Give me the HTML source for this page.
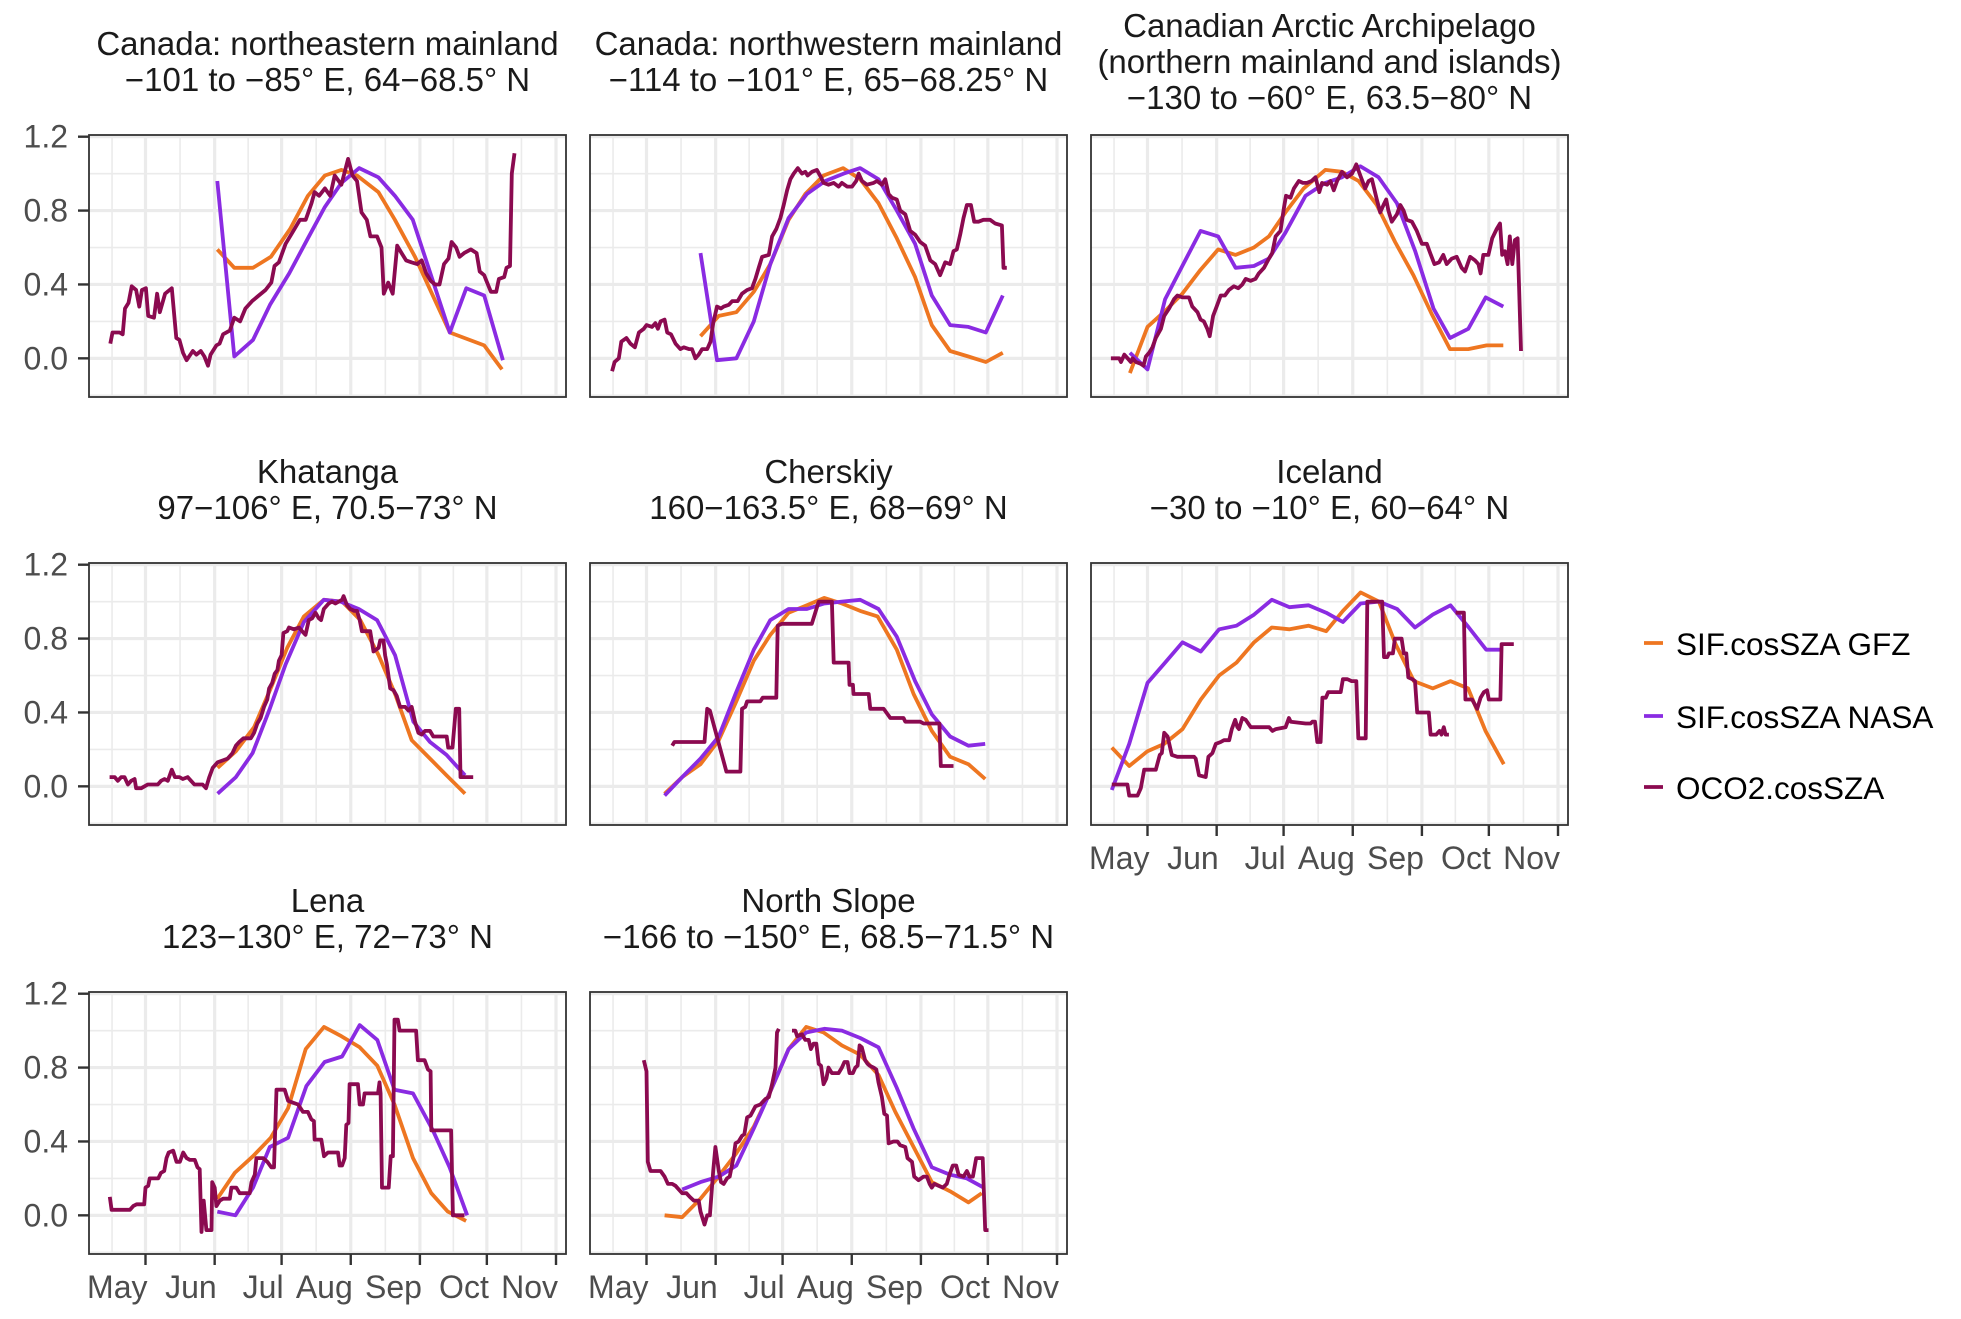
<!DOCTYPE html>
<html><head><meta charset="utf-8"><title>SIF vs OCO2 by region</title>
<style>
html,body{margin:0;padding:0;background:#fff;}
svg{display:block;font-family:"Liberation Sans",Arial,sans-serif;}
</style></head>
<body>
<svg id="chart" width="1961" height="1319" viewBox="0 0 1961 1319" xmlns="http://www.w3.org/2000/svg"></svg>
<script>
// ---------------- data (day-of-year, value) ----------------
const monthTicks = [121,152,182,213,244,274,305];
const monthLabels = ["May","Jun","Jul","Aug","Sep","Oct","Nov"];
const minorDays = [106,136.5,167,197.5,228.5,259,289.5];
const yTicks = [0,0.4,0.8,1.2];
const yTickLabels = ["0.0","0.4","0.8","1.2"];
const yMinor = [-0.2,0.2,0.6,1.0];
const seriesNames = ["SIF.cosSZA GFZ","SIF.cosSZA NASA","OCO2.cosSZA"];

const p1Title = ["Canada: northeastern mainland","\u2212101 to \u221285\u00b0 E, 64\u221268.5\u00b0 N"];
const p1GFZ = [[153.2,.59],[160.8,.49],[169.2,.49],[177.2,.55],[185.8,.70],[193.8,.88],[201.4,.99],[208.8,1.02],[215.8,.99],[225.4,.90],[232.8,.75],[241.8,.55],[257.4,.14],[272.8,.07],[280.8,-.06]];
const p1NASA = [[153.2,.96],[160.8,.01],[169.2,.10],[176.8,.29],[185.4,.46],[193.8,.65],[201.4,.82],[208.8,.95],[216.8,1.03],[225.4,.98],[232.8,.88],[240.8,.75],[257.4,.14],[264.8,.38],[272.8,.34],[281.2,-.01]];
const p1OCO2 = [[105.2,.08],[106.2,.14],[109.4,.14],[110.8,.13],[111.8,.27],[113.4,.30],[114.8,.39],[116.8,.37],[118.2,.28],[119.4,.37],[121.2,.38],[122.2,.23],[124.8,.22],[126.2,.35],[127.4,.25],[129.8,.35],[132.8,.38],[134.8,.11],[136.2,.10],[137.8,.03],[139.4,-.01],[142.2,.04],[143.8,.02],[145.8,.04],[147.4,.01],[149,-.04],[150.2,.02],[152.8,.07],[154.2,.08],[155.8,.13],[158.8,.15],[160.8,.22],[163.4,.20],[165.8,.27],[168.8,.31],[171.8,.34],[174.8,.37],[177.4,.41],[178.8,.50],[180.8,.52],[183.8,.62],[186.8,.68],[190.2,.75],[192.8,.75],[195.4,.84],[196.8,.90],[198.8,.88],[201.4,.92],[203.8,.88],[205.8,.99],[208.8,.94],[211.8,1.08],[213.8,.99],[215.8,.96],[217.8,.79],[220.2,.75],[221.8,.66],[224.8,.66],[226.8,.60],[227.8,.35],[229.8,.41],[231.8,.35],[233.8,.61],[235.8,.57],[237.8,.53],[240.2,.52],[242.8,.51],[244.8,.53],[246.8,.46],[248.8,.42],[250.8,.40],[252.8,.40],[254.8,.51],[256.8,.54],[258.2,.63],[260.2,.60],[261.8,.55],[263.8,.57],[266.8,.59],[269.4,.57],[270.8,.47],[272.8,.45],[273.8,.42],[275.8,.36],[278.2,.36],[279.4,.43],[281.8,.44],[282.8,.49],[284.4,.50],[285.2,1.00],[286.4,1.11]];

const p2Title = ["Canada: northwestern mainland","\u2212114 to \u2212101\u00b0 E, 65\u221268.25\u00b0 N"];
const p2GFZ = [[145.2,.12],[153.4,.23],[161.3,.25],[169.1,.36],[176.5,.51],[184.7,.75],[192.2,.89],[200.4,.99],[209.1,1.03],[216.8,.97],[225,.84],[233.2,.65],[241.4,.44],[248.9,.18],[257.1,.04],[265.3,.01],[273.1,-.02],[280.7,.03]];
const p2NASA = [[145.2,.57],[152.6,-.01],[161.3,0],[169.1,.20],[176.5,.51],[184.7,.76],[192.9,.89],[201.1,.96],[209.4,1.0],[216.8,1.03],[225,.97],[233.2,.80],[241.4,.62],[248.9,.34],[257.1,.18],[265.3,.17],[273.1,.14],[280.7,.34]];
const p2OCO2 = [[105.6,-.07],[106.7,-.02],[108.6,0],[109.7,.09],[112,.11],[113.8,.08],[115.8,.06],[117.6,.14],[119.8,.16],[121,.18],[123.5,.17],[125,.19],[126.1,.16],[127.3,.20],[129.1,.21],[130.3,.14],[132,.13],[134,.08],[136.2,.05],[137.7,.06],[140,.05],[141.4,.05],[142.9,0],[144.4,.02],[145.9,.05],[148.2,.05],[149.7,.09],[150.9,.19],[152.6,.28],[154.4,.27],[155.6,.28],[157.9,.29],[159.4,.31],[161.9,.31],[163.8,.35],[166.1,.37],[168.3,.38],[169.8,.43],[171.3,.49],[172.8,.55],[175.8,.56],[177.3,.66],[179.2,.70],[181,.76],[182.5,.83],[184,.91],[185.5,.97],[187,1.0],[188.8,1.03],[190.7,1.0],[192.2,1.01],[193.2,.99],[195.2,1.01],[197.4,1.02],[199.2,.98],[200.4,.95],[202.6,.94],[204.9,.95],[207.1,.93],[208.6,.95],[210.9,.93],[213.1,.93],[215,.96],[216.1,1.0],[217.6,.96],[219.8,.94],[222.8,.95],[224.3,.96],[226.5,.94],[228,.97],[229.5,.89],[231,.87],[233.2,.86],[234.7,.80],[237,.78],[239.2,.69],[241.4,.67],[243.7,.63],[245.9,.61],[248.2,.53],[250.4,.51],[252.6,.45],[254.9,.52],[257.1,.51],[258.6,.58],[260.1,.59],[261.6,.67],[263.1,.76],[264.6,.83],[266.4,.83],[267.9,.74],[269.8,.74],[272,.75],[275,.75],[277.3,.73],[280.3,.72],[281,.49],[282.5,.49]];

const p3Title = ["Canadian Arctic Archipelago","(northern mainland and islands)","\u2212130 to \u221260\u00b0 E, 63.5\u221280\u00b0 N"];
const p3GFZ = [[113.1,-.08],[121,.17],[129.2,.26],[136.6,.35],[144.8,.48],[152.7,.59],[160.5,.56],[168.7,.60],[175.4,.66],[182.8,.79],[191,.92],[200.7,1.02],[208.2,1.01],[215.6,.96],[223.8,.83],[232,.63],[240.2,.45],[248.4,.24],[256.6,.05],[264.8,.05],[273,.07],[280.5,.07]];
const p3NASA = [[113.1,.03],[121,-.06],[128.9,.32],[136.6,.50],[144.8,.69],[152.7,.66],[160.5,.49],[168.7,.50],[175.4,.54],[182.8,.68],[191.8,.88],[200.7,.95],[208.2,.98],[216.4,1.04],[224.6,.98],[232.8,.84],[241,.58],[249.2,.27],[256.6,.11],[264.8,.16],[272.6,.33],[280.5,.28]];
const p3OCO2 = [[104.6,0],[106.8,0],[108.3,0],[109.1,-.02],[110.6,.02],[112.1,0],[113.5,-.02],[114.3,0],[115.8,-.02],[118,-.03],[119.2,-.04],[120.3,.01],[121.7,.03],[123.2,.06],[124.7,.11],[127,.16],[128.5,.23],[130.7,.27],[132.9,.32],[134.4,.34],[136.6,.33],[139.6,.33],[141.1,.28],[143.4,.25],[144.8,.21],[146.3,.20],[147.8,.16],[148.9,.12],[150.4,.23],[152.3,.29],[153.8,.34],[155.7,.34],[157.5,.37],[159.7,.39],[161.7,.38],[163.5,.40],[165,.43],[167.2,.42],[169.4,.43],[170.9,.46],[173.2,.49],[175.4,.54],[176.9,.57],[178.4,.66],[180.6,.69],[182.1,.81],[183.1,.88],[185.1,.87],[186.6,.92],[188.8,.96],[190.6,.95],[192.5,.95],[194.5,.96],[196.3,.98],[198,.90],[199.2,.95],[201.5,.94],[203,.96],[204.5,.91],[206,.96],[208.2,1.01],[210.4,.98],[212.7,1.0],[214.6,1.05],[216.4,.99],[218.6,.92],[220.1,.96],[221.6,.97],[223.8,.86],[225.3,.79],[226.8,.83],[228,.86],[229,.80],[230.5,.74],[232.8,.78],[234.3,.83],[235.8,.80],[237.2,.75],[239.5,.74],[241.7,.69],[244,.62],[246.2,.62],[247.7,.57],[249.6,.51],[251.7,.52],[253.6,.56],[255.1,.51],[257.4,.54],[259.6,.55],[261.8,.49],[263.3,.47],[265.6,.55],[267.8,.53],[269.3,.51],[270.3,.46],[271.5,.56],[273.8,.56],[275.5,.65],[277.5,.70],[279,.73],[280,.56],[281.2,.58],[282.4,.51],[283.4,.66],[284.5,.51],[285.7,.64],[286.9,.65],[288.4,.04]];

const p4Title = ["Khatanga","97\u2212106\u00b0 E, 70.5\u221273\u00b0 N"];
const p4GFZ = [[153.3,.10],[161.5,.19],[169.7,.32],[177.1,.53],[184.5,.75],[192,.92],[200.9,1.01],[209.1,1.0],[217.3,.90],[225.5,.71],[232.9,.50],[240.3,.25],[248.5,.15],[255.9,.06],[264.2,-.04]];
const p4NASA = [[153.3,-.04],[161.5,.05],[169,.18],[176.4,.41],[183.8,.66],[192,.89],[200.9,1.01],[208.4,1.0],[216.6,.96],[224.8,.90],[232.9,.71],[241.1,.35],[248.5,.24],[255.9,.17],[264.2,.06]];
const p4OCO2 = [[104.9,.05],[107.2,.05],[108.6,.03],[110.1,.05],[111.6,.05],[113.1,.01],[114.6,.03],[116.1,.04],[116.8,-.01],[119.1,-.01],[120.6,0],[122,.01],[123.5,.01],[126.5,.01],[128,.03],[129.5,.04],[131,.03],[132.8,.09],[134.2,.05],[136.2,.05],[137.7,.04],[139.9,.05],[141.4,.03],[142.9,.01],[145.1,.01],[146.6,.01],[148.1,-.01],[149.6,.05],[151.1,.10],[153.3,.13],[155.5,.14],[157.8,.15],[160,.18],[161.5,.22],[163,.24],[164.9,.26],[166.7,.26],[168.2,.26],[169.7,.29],[171.1,.34],[172.6,.37],[174.1,.43],[175.6,.47],[176.4,.53],[177.8,.56],[178.9,.61],[180.1,.63],[180.8,.68],[182,.71],[182.8,.83],[184.5,.84],[185.3,.86],[187.5,.85],[189.8,.86],[191.2,.84],[192.7,.82],[194.2,.90],[195.7,.91],[197.2,.94],[198.7,.91],[199.7,.90],[200.9,.96],[203.1,.99],[204.6,1.0],[206.1,.99],[207.6,1.0],[209.1,1.01],[209.8,1.03],[211.3,.98],[212.8,.96],[214.6,.95],[215.8,.95],[217,.90],[218,.84],[220.3,.84],[221.7,.84],[223.2,.73],[225.5,.75],[226.2,.79],[227.7,.79],[228.4,.71],[229.2,.66],[230.7,.53],[232.2,.52],[233.6,.49],[235.1,.43],[237.4,.43],[238.9,.41],[240.3,.43],[241.8,.35],[243.3,.29],[244.8,.28],[246.3,.30],[248.5,.30],[250,.27],[253,.27],[256,.27],[256.7,.21],[258.6,.21],[260.1,.42],[261.6,.42],[262.2,.05],[264.2,.05],[267.9,.05]];

const p5Title = ["Cherskiy","160\u2212163.5\u00b0 E, 68\u221269\u00b0 N"];
const p5GFZ = [[129.1,-.04],[137,.05],[145.2,.12],[153.4,.25],[160.9,.45],[169.1,.68],[176.5,.82],[184.7,.94],[192.9,.98],[200.7,1.02],[208.6,.99],[216.8,.95],[224.6,.92],[233.2,.74],[240.7,.50],[248.9,.30],[257.1,.16],[265.3,.12],[272.8,.04]];
const p5NASA = [[129.1,-.05],[137,.05],[145.2,.15],[153.4,.27],[160.9,.50],[169.1,.74],[176.5,.90],[184.7,.96],[192.9,.96],[200.7,.99],[208.6,1.0],[216.8,1.01],[225,.96],[233.2,.81],[241.4,.57],[248.9,.39],[257.1,.27],[265.3,.22],[272.8,.23]];
const p5OCO2 = [[132.5,.22],[133.5,.24],[147,.24],[148.2,.42],[149.4,.41],[156.8,.08],[163.1,.08],[163.8,.42],[165.3,.43],[166.1,.46],[172,.46],[173.1,.48],[179.2,.48],[179.8,.87],[181.7,.88],[195.1,.88],[198.2,1.0],[204.1,1.0],[204.9,.67],[211.6,.67],[212,.55],[213.5,.55],[213.8,.50],[220.6,.50],[221.3,.42],[227.3,.42],[230.3,.37],[236.2,.37],[237,.35],[243.7,.35],[245.2,.34],[252.3,.34],[252.9,.11],[258.6,.11]];

const p6Title = ["Iceland","\u221230 to \u221210\u00b0 E, 60\u221264\u00b0 N"];
const p6GFZ = [[105,.21],[112.8,.11],[121,.19],[128.5,.23],[136.7,.31],[144.9,.47],[153.1,.60],[160.9,.67],[168.8,.78],[176.7,.86],[184.7,.85],[193.1,.87],[201.1,.84],[208.6,.95],[216.5,1.05],[224.7,1.0],[232.2,.77],[240.4,.57],[248.9,.53],[256.8,.57],[264.7,.53],[272.5,.30],[280.7,.12]];
const p6NASA = [[105,-.02],[112.8,.23],[121,.56],[128.9,.67],[136.7,.78],[144.9,.73],[153.1,.85],[160.9,.87],[168.8,.93],[176.7,1.01],[184.7,.97],[193.1,.98],[201.1,.94],[208.6,.89],[216.5,.99],[224.7,1.0],[232.9,.96],[240.9,.86],[248.9,.93],[256.8,.98],[265,.86],[272.8,.74],[279.7,.74]];
const p6OCO2 = [[105,.01],[112,.01],[112.8,-.05],[116.5,-.05],[118,-.01],[119.5,.09],[124.7,.09],[126.5,.17],[127.4,.18],[128.5,.29],[130,.27],[131.9,.17],[134.4,.16],[141.9,.16],[142.6,.15],[144.1,.06],[147.1,.05],[148.3,.16],[150.1,.18],[151.6,.23],[153.8,.24],[155.3,.25],[157.6,.25],[158.8,.31],[160.3,.36],[161.3,.32],[162,.31],[163.5,.37],[165,.36],[167.3,.32],[168.8,.32],[175.5,.32],[177,.30],[178.5,.31],[182.9,.32],[184.4,.37],[185.2,.35],[191.9,.34],[194.1,.34],[194.9,.35],[196.1,.35],[197.1,.24],[198.6,.24],[199.4,.48],[200.9,.48],[202,.51],[207.6,.51],[208.6,.58],[210.6,.58],[212.5,.57],[214.6,.57],[215.5,.26],[218.8,.26],[219.5,1.0],[225.5,1.0],[226.2,1.0],[227,.70],[228.5,.70],[229.2,.72],[231,.72],[231.9,.80],[234.9,.80],[235.9,.72],[237,.72],[237.9,.59],[239.7,.58],[240.9,.57],[241.9,.40],[247.1,.40],[247.9,.28],[250.4,.28],[251.9,.30],[252.8,.28],[253.8,.32],[254.6,.28],[256.1,.28],null,[259.1,.94],[262.8,.94],[263.5,.47],[266.5,.47],[268.8,.42],[270.3,.48],[271.8,.51],[273.2,.52],[274,.47],[279.2,.47],[279.7,.77],[285.2,.77]];

const p7Title = ["Lena","123\u2212130\u00b0 E, 72\u221273\u00b0 N"];
const p7GFZ = [[153.2,.09],[161,.23],[169.2,.32],[177.1,.42],[184.9,.58],[192.8,.90],[201,1.02],[208.8,.97],[217,.91],[224.9,.81],[232.6,.60],[240.9,.31],[249.1,.12],[256.5,.02],[264.7,-.03]];
const p7NASA = [[153.2,.02],[161.3,0],[169.2,.15],[176.7,.37],[184.9,.42],[193.1,.70],[201.3,.83],[209.1,.86],[217,1.03],[224.9,.95],[232.6,.68],[240.9,.66],[249.8,.46],[257.3,.26],[265.2,0]];
const p7OCO2 = [[105,.10],[105.8,.03],[114,.03],[115.5,.05],[117,.06],[120.4,.06],[121,.15],[122.2,.16],[122.9,.20],[126.7,.20],[127.9,.23],[129.4,.24],[130.4,.31],[131.4,.34],[133.4,.35],[134.9,.29],[136.4,.29],[137.9,.34],[139.4,.31],[140.9,.30],[143.1,.30],[144.3,.26],[145.3,.25],[146.1,-.09],[147.1,.08],[148.3,-.08],[150.6,-.08],[150.9,.18],[152,.15],[152.8,.05],[154.3,.08],[155.8,.09],[158.8,.09],[159.5,.15],[161.7,.15],[163.2,.12],[167.7,.12],[168.5,.18],[170,.22],[170.7,.31],[173.7,.31],[175.6,.29],[177.4,.26],[178.6,.26],[179.7,.68],[183.4,.68],[184.9,.62],[187.1,.61],[189.4,.60],[191.6,.56],[193.8,.56],[195.3,.52],[196.5,.51],[196.8,.41],[199.8,.41],[201,.32],[202.8,.34],[207.3,.34],[208,.27],[209.1,.27],[210.3,.31],[211,.49],[212,.50],[212.5,.71],[216.2,.71],[217,.60],[218.5,.60],[219.2,.66],[225.2,.66],[225.9,.72],[226.4,.66],[227,.15],[230,.15],[230.9,.32],[231.9,.32],[232.6,1.06],[234.1,1.06],[234.9,1.0],[242.3,1.0],[243.1,.84],[246.1,.84],[247.6,.79],[248.8,.78],[249.1,.46],[258,.46],[258.8,0],[264,0]];

const p8Title = ["North Slope","\u2212166 to \u2212150\u00b0 E, 68.5\u221271.5\u00b0 N"];
const p8GFZ = [[129.1,0],[137,-.01],[145.2,.09],[152.6,.20],[160.9,.33],[169.1,.48],[176.5,.67],[184.7,.90],[192.6,1.02],[200.4,.99],[208.6,.92],[216.8,.87],[225,.76],[232.5,.56],[240.7,.37],[248.9,.18],[257.1,.13],[265.3,.07],[271.3,.12]];
const p8NASA = [[137,.14],[145.2,.18],[153.4,.21],[161.3,.27],[169.1,.47],[176.5,.67],[184.7,.90],[192.6,.99],[200.7,1.01],[208.6,1.0],[216.8,.96],[225,.91],[233.2,.69],[240.7,.47],[248.9,.26],[257.1,.22],[264.6,.20],[272.1,.15]];
const p8OCO2 = [[119.8,.84],[121,.78],[121.6,.29],[122.8,.24],[127.3,.24],[129.1,.21],[130.6,.17],[132.5,.17],[134,.16],[135.5,.14],[137,.12],[138.9,.12],[140.4,.10],[142.2,.08],[144.4,.08],[145.2,.02],[147,-.05],[148.2,0],[149.4,0],[150.9,.24],[151.9,.37],[153.4,.24],[154.4,.18],[155.6,.17],[157.1,.20],[158.3,.21],[160.1,.32],[160.9,.39],[162.3,.40],[163.8,.43],[164.9,.44],[166.1,.53],[167.6,.54],[169.8,.59],[172,.60],[174.3,.63],[175.8,.64],[177.3,.71],[178.8,.80],[179.5,.99],[180.3,1.01],null,[186.2,1.0],[187.7,1.0],[188.5,.97],[190.7,.98],[192.2,.95],[193.7,.95],[194.7,.90],[195.9,.93],[197.1,.93],[198.2,.82],[199.2,.81],[200.4,.71],[201.6,.74],[202.6,.80],[204.1,.77],[207.1,.77],[208.6,.80],[209.7,.83],[211.1,.83],[212,.77],[213.5,.77],[214.6,.80],[215.6,.81],[216.5,.92],[217.5,.91],[219,.84],[220.1,.82],[221,.81],[222.8,.80],[224,.79],[225,.72],[226.5,.64],[227.6,.55],[228.8,.54],[229.5,.39],[231.7,.40],[233.5,.40],[234.7,.38],[237,.37],[238,.31],[240,.29],[241,.21],[242.9,.19],[245.2,.21],[246.7,.21],[247.9,.17],[248.9,.15],[250,.17],[251.9,.16],[253.8,.15],[255.6,.17],[256.8,.22],[258.3,.27],[259.8,.27],[260.9,.22],[263.1,.21],[264.6,.24],[265.8,.21],[267.3,.21],[268.8,.31],[271.7,.31],[272.8,-.08],[274.3,-.08]];

// ---------------- layout ----------------
const SVGNS = "http://www.w3.org/2000/svg";
const svg = document.getElementById("chart");
const colX = [89, 590, 1091];
const rowY = [135, 563, 992];
const PW = 477, PH = 262;
const DAY0 = 121, PX_DAY = 2.231, MAY_OFF = 56.5;
const Y_TOP_VAL = 1.2, Y_TOP_OFF = 1.7, PX_UNIT = 184.7;
const colors = ["#EE7621", "#8A2BE2", "#8B0A50"];

function el(tag, attrs, parent) {
  const e = document.createElementNS(SVGNS, tag);
  for (const k in attrs) e.setAttribute(k, attrs[k]);
  (parent || svg).appendChild(e);
  return e;
}
function xScale(left, d) { return left + MAY_OFF + (d - DAY0) * PX_DAY; }
function yScale(top, v) { return top + Y_TOP_OFF + (Y_TOP_VAL - v) * PX_UNIT; }

function pathFrom(series, left, top) {
  let d = "", pen = false;
  for (const p of series) {
    if (p === null) { pen = false; continue; }
    d += (pen ? "L" : "M") + xScale(left, p[0]).toFixed(1) + "," + yScale(top, p[1]).toFixed(1);
    pen = true;
  }
  return d;
}

const panels = [
  {title: p1Title, s: [p1GFZ, p1NASA, p1OCO2], c: 0, r: 0, name: "canada-northeast"},
  {title: p2Title, s: [p2GFZ, p2NASA, p2OCO2], c: 1, r: 0, name: "canada-northwest"},
  {title: p3Title, s: [p3GFZ, p3NASA, p3OCO2], c: 2, r: 0, name: "canadian-arctic"},
  {title: p4Title, s: [p4GFZ, p4NASA, p4OCO2], c: 0, r: 1, name: "khatanga"},
  {title: p5Title, s: [p5GFZ, p5NASA, p5OCO2], c: 1, r: 1, name: "cherskiy"},
  {title: p6Title, s: [p6GFZ, p6NASA, p6OCO2], c: 2, r: 1, name: "iceland"},
  {title: p7Title, s: [p7GFZ, p7NASA, p7OCO2], c: 0, r: 2, name: "lena"},
  {title: p8Title, s: [p8GFZ, p8NASA, p8OCO2], c: 1, r: 2, name: "north-slope"}
];
const seriesKeys = ["gfz", "nasa", "oco2"];
const bottomPanels = ["iceland", "lena", "north-slope"];

const defs = el("defs", {});
panels.forEach((p, i) => {
  const left = colX[p.c], top = rowY[p.r];
  const g = el("g", {});
  
  

  const cp = el("clipPath", {id: "clip" + i}, defs);
  el("rect", {x: left, y: top, width: PW, height: PH}, cp);

  const bg = el("rect", {x: left, y: top, width: PW, height: PH, fill: "#fff"}, g);
  
  

  minorDays.forEach(d => {
    const x = xScale(left, d);
    const ln = el("line", {x1: x, x2: x, y1: top, y2: top + PH, stroke: "#ebebeb", "stroke-width": 1.6}, g);
    
    
  });
  yMinor.forEach(v => {
    const y = yScale(top, v);
    const ln = el("line", {x1: left, x2: left + PW, y1: y, y2: y, stroke: "#ebebeb", "stroke-width": 1.6}, g);
    
    
  });
  monthTicks.forEach(d => {
    const x = xScale(left, d);
    const ln = el("line", {x1: x, x2: x, y1: top, y2: top + PH, stroke: "#ebebeb", "stroke-width": 3.2}, g);
    
    
  });
  yTicks.forEach(v => {
    const y = yScale(top, v);
    const ln = el("line", {x1: left, x2: left + PW, y1: y, y2: y, stroke: "#ebebeb", "stroke-width": 3.2}, g);
    
    
  });

  const sg = el("g", {"clip-path": "url(#clip" + i + ")"}, g);
  p.s.forEach((ser, k) => {
    const path = el("path", {d: pathFrom(ser, left, top), fill: "none", stroke: colors[k], "stroke-width": 3.8, "stroke-linejoin": "round"}, sg);
    
    
  });

  const br = el("rect", {x: left, y: top, width: PW, height: PH, fill: "none", stroke: "#333", "stroke-width": 1.8}, g);
  
  

  const n = p.title.length;
  const centerY = top - 72;
  const firstBase = centerY + 10 - (n - 1) * 36 / 2;
  p.title.forEach((t, j) => {
    const tx = el("text", {x: left + PW / 2, y: firstBase + j * 36, "text-anchor": "middle", "font-size": 33, fill: "#1a1a1a"}, g);
    tx.textContent = t;
    
    
  });

  if (p.c === 0) {
    yTicks.forEach((v, j) => {
      const y = yScale(top, v);
      const tk = el("line", {x1: left - 11, x2: left, y1: y, y2: y, stroke: "#333", "stroke-width": 2.4}, g);
      
      
      const lb = el("text", {x: left - 21, y: y + 11, "text-anchor": "end", "font-size": 32, fill: "#4d4d4d"}, g);
      lb.textContent = yTickLabels[j];
      
      
    });
  }
  if (bottomPanels.indexOf(p.name) >= 0) {
    monthTicks.forEach((d, j) => {
      const x = xScale(left, d);
      const tk = el("line", {x1: x, x2: x, y1: top + PH, y2: top + PH + 11, stroke: "#333", "stroke-width": 2.4}, g);
      
      
      const lb = el("text", {x: x + 2, y: top + PH + 44, "text-anchor": "end", "font-size": 32, fill: "#4d4d4d"}, g);
      lb.textContent = monthLabels[j];
      
      
    });
  }
});

const lg = el("g", {});


const legendY = [643, 716, 787];
seriesNames.forEach((nm, k) => {
  const key = el("line", {x1: 1644, x2: 1663, y1: legendY[k], y2: legendY[k], stroke: colors[k], "stroke-width": 3.8}, lg);
  
  
  const t = el("text", {x: 1676, y: legendY[k] + 12, "font-size": 31.5, fill: "#000"}, lg);
  t.textContent = nm;
  
  
});
</script>
</body></html>
